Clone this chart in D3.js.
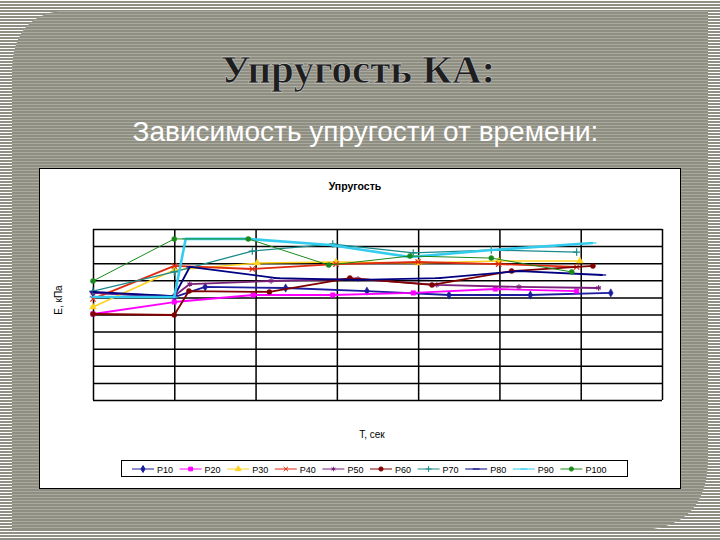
<!DOCTYPE html>
<html><head><meta charset="utf-8">
<script src="https://cdn.jsdelivr.net/npm/d3@7"></script>
<style>body{margin:0;padding:0;overflow:hidden;background:#fff}</style>
</head><body>
<script>
// ---- data ----
const seriesNames = ["P10","P20","P30","P40","P50","P60","P70","P80","P90","P100"];
const tP10  = [0,10,13.8,23.7,33.7,43.8,53.8,63.7];
const vP10  = [6.26,6.02,6.61,6.55,6.37,6.14,6.14,6.26];
const tP20  = [0,10,19.7,29.5,39.4,49.5,59.5];
const vP20  = [5.03,5.73,6.14,6.14,6.26,6.49,6.37];
const tP30  = [0,10,20.2,29.9,40.0,49.9,59.9];
const vP30  = [5.44,7.60,8.01,8.07,8.01,8.13,8.13];
const tP40  = [0,10,19.6,29.9,40.0,49.9,59.5];
const vP40  = [5.91,7.84,7.66,7.95,8.07,7.95,7.78];
const tP50  = [0,10,11.9,21.9,32.6,42.3,52.4,62.2];
const vP50  = [6.26,6.08,6.78,6.96,7.08,6.73,6.61,6.55];
const tP60  = [0,10,11.8,21.7,31.6,41.7,51.5,61.5];
const vP60  = [5.03,4.97,6.37,6.32,7.13,6.73,7.54,7.84];
const tP70  = [0,10,19.6,29.5,39.4,49.0,59.5];
const vP70  = [6.37,7.49,8.71,9.12,8.60,8.77,8.65];
const tP80  = [0,10,11.9,22.6,32.6,42.5,52.5,62.7];
const vP80  = [6.32,6.08,7.78,7.13,7.02,7.13,7.54,7.31];
const tP90  = [0,10,11.4,19.1,29.2,39.0,49.0,61.5];
const vP90  = [6.02,6.02,9.42,9.42,9.06,8.36,8.77,9.18];
const tP100 = [0,10,19.1,29.0,39.0,49.0,58.9];
const vP100 = [6.96,9.42,9.42,7.89,8.42,8.30,7.49];
const xTicks = [0,10,20,30,40,50,60,70];
const yTicks = [0,1,2,3,4,5,6,7,8,9,10];

const T = [tP10,tP20,tP30,tP40,tP50,tP60,tP70,tP80,tP90,tP100];
const V = [vP10,vP20,vP30,vP40,vP50,vP60,vP70,vP80,vP90,vP100];
const series = seriesNames.map((n,i)=>({name:n, pts:T[i].map((t,j)=>[t,V[i][j]])}));

const styles = {
  P10:{c:"#1c1c9c",w:1.8,m:"diamond"},
  P20:{c:"#ff00ff",w:1.8,m:"square"},
  P30:{c:"#ffd21f",w:1.5,m:"triangle"},
  P40:{c:"#e02a10",w:1.8,m:"times"},
  P50:{c:"#7a1f7a",w:1.8,m:"star"},
  P60:{c:"#800000",w:1.8,m:"circle"},
  P70:{c:"#1a8a8a",w:1.3,m:"plus"},
  P80:{c:"#000080",w:1.8,m:"dash"},
  P90:{c:"#33ccee",w:2.6,m:"dash"},
  P100:{c:"#1a8a1a",w:1,m:"circle"}
};

const W=720,H=540;
const svg = d3.select("body").append("svg").attr("width",W).attr("height",H);
const defs = svg.append("defs");
const po = defs.append("pattern").attr("id","outer").attr("width",4).attr("height",3).attr("patternUnits","userSpaceOnUse");
po.append("rect").attr("width",4).attr("height",3).attr("fill","#ffffff");
po.append("rect").attr("y",1).attr("width",4).attr("height",2).attr("fill","#8f8f84");
const pi = defs.append("pattern").attr("id","inner").attr("width",4).attr("height",3).attr("patternUnits","userSpaceOnUse");
pi.append("rect").attr("width",4).attr("height",3).attr("fill","#8e8e83");
pi.append("rect").attr("y",2).attr("width",4).attr("height",1).attr("fill","#a9a99e");

svg.append("rect").attr("width",W).attr("height",H).attr("fill","url(#outer)");
// round-diagonal-corner box
const bx0=12,by0=10,bx1=708,by1=530,r1=62,r2=72;
svg.append("path").attr("d",
  `M${bx0+r1},${by0} L${bx1},${by0} L${bx1},${by1-r2} Q${bx1},${by1} ${bx1-r2},${by1} L${bx0},${by1} L${bx0},${by0+r1} Q${bx0},${by0} ${bx0+r1},${by0} Z`)
  .attr("fill","url(#inner)");

// titles
svg.append("text").attr("x",358).attr("y",83).attr("text-anchor","middle")
  .attr("font-family","Liberation Serif, serif").attr("font-weight","bold").attr("font-size",41)
  .attr("fill","#1e1e1e").attr("stroke","#e8e8e8").attr("stroke-width",0.4).text("Упругость КА:");
svg.append("text").attr("x",365.5).attr("y",141).attr("text-anchor","middle")
  .attr("font-family","Liberation Sans, Arial, sans-serif").attr("font-size",28)
  .attr("fill","#ffffff").text("Зависимость упругости от времени:");

// chart area
svg.append("rect").attr("x",39.5).attr("y",168.5).attr("width",641).attr("height",320)
  .attr("fill","#fff").attr("stroke","#000").attr("stroke-width",1);

const x = d3.scaleLinear().domain([0,70]).range([93,662]);
const y = d3.scaleLinear().domain([0,10]).range([400,229]);

const g = svg.append("g");
// gridlines via axes
g.append("g").attr("transform","translate(0,400)")
  .call(d3.axisBottom(x).tickValues(xTicks).tickSize(-171).tickFormat(""))
  .call(a=>a.select(".domain").remove())
  .call(a=>a.selectAll("line").attr("stroke","#000").attr("stroke-width",1.5));
g.append("g").attr("transform","translate(93,0)")
  .call(d3.axisLeft(y).tickValues(yTicks).tickSize(-569).tickFormat(""))
  .call(a=>a.select(".domain").remove())
  .call(a=>a.selectAll("line").attr("stroke","#000").attr("stroke-width",1.5));

const line = d3.line().x(d=>x(d[0])).y(d=>y(d[1]));
function markerPath(m, size){
  if(m==="diamond") return d3.symbol(d3.symbolDiamond, size)();
  if(m==="square") return d3.symbol(d3.symbolSquare, size)();
  if(m==="triangle") return d3.symbol(d3.symbolTriangle, size)();
  if(m==="circle") return d3.symbol(d3.symbolCircle, size)();
  if(m==="times") return d3.symbol(d3.symbolTimes, size)();
  if(m==="star") return d3.symbol(d3.symbolAsterisk, size)();
  if(m==="plus") return d3.symbol(d3.symbolPlus, size)();
  if(m==="dash") return "M-3.5,0L3.5,0";
}
const strokeMarkers = new Set(["times","star","plus","dash"]);

series.forEach(s=>{
  const st = styles[s.name];
  g.append("path").datum(s.pts).attr("d",line).attr("fill","none")
    .attr("stroke",st.c).attr("stroke-width",st.w).attr("stroke-linejoin","round");
  g.selectAll(null).data(s.pts).enter().append("path")
    .attr("transform",d=>`translate(${x(d[0])},${y(d[1])})`)
    .attr("d",markerPath(st.m, 20))
    .attr("fill",strokeMarkers.has(st.m)?"none":st.c)
    .attr("stroke",st.c).attr("stroke-width",strokeMarkers.has(st.m)?1.2:0.5);
});

// chart texts
svg.append("text").attr("x",355).attr("y",190).attr("text-anchor","middle")
  .attr("font-family","Liberation Sans, Arial, sans-serif").attr("font-weight","bold").attr("font-size",10.5).text("Упругость");
svg.append("text").attr("transform","translate(62,300) rotate(-90)").attr("text-anchor","middle")
  .attr("font-family","Liberation Sans, Arial, sans-serif").attr("font-size",10).text("Е, кПа");
svg.append("text").attr("x",372).attr("y",438).attr("text-anchor","middle")
  .attr("font-family","Liberation Sans, Arial, sans-serif").attr("font-size",10).text("Т, сек");

// legend
const lg = svg.append("g");
lg.append("rect").attr("x",121.5).attr("y",460.5).attr("width",506).attr("height",16)
  .attr("fill","#fff").attr("stroke","#000").attr("stroke-width",1);
seriesNames.forEach((n,i)=>{
  const st = styles[n];
  const lx = 132 + i*47.6, ly = 469;
  lg.append("line").attr("x1",lx).attr("x2",lx+22).attr("y1",ly).attr("y2",ly)
    .attr("stroke",st.c).attr("stroke-width",1);
  lg.append("path").attr("transform",`translate(${lx+11},${ly})`).attr("d",markerPath(st.m,14))
    .attr("fill",strokeMarkers.has(st.m)?"none":st.c).attr("stroke",st.c).attr("stroke-width",1);
  lg.append("text").attr("x",lx+25).attr("y",ly+3.5)
    .attr("font-family","Liberation Sans, Arial, sans-serif").attr("font-size",9).text(n);
});
</script>
</body></html>
